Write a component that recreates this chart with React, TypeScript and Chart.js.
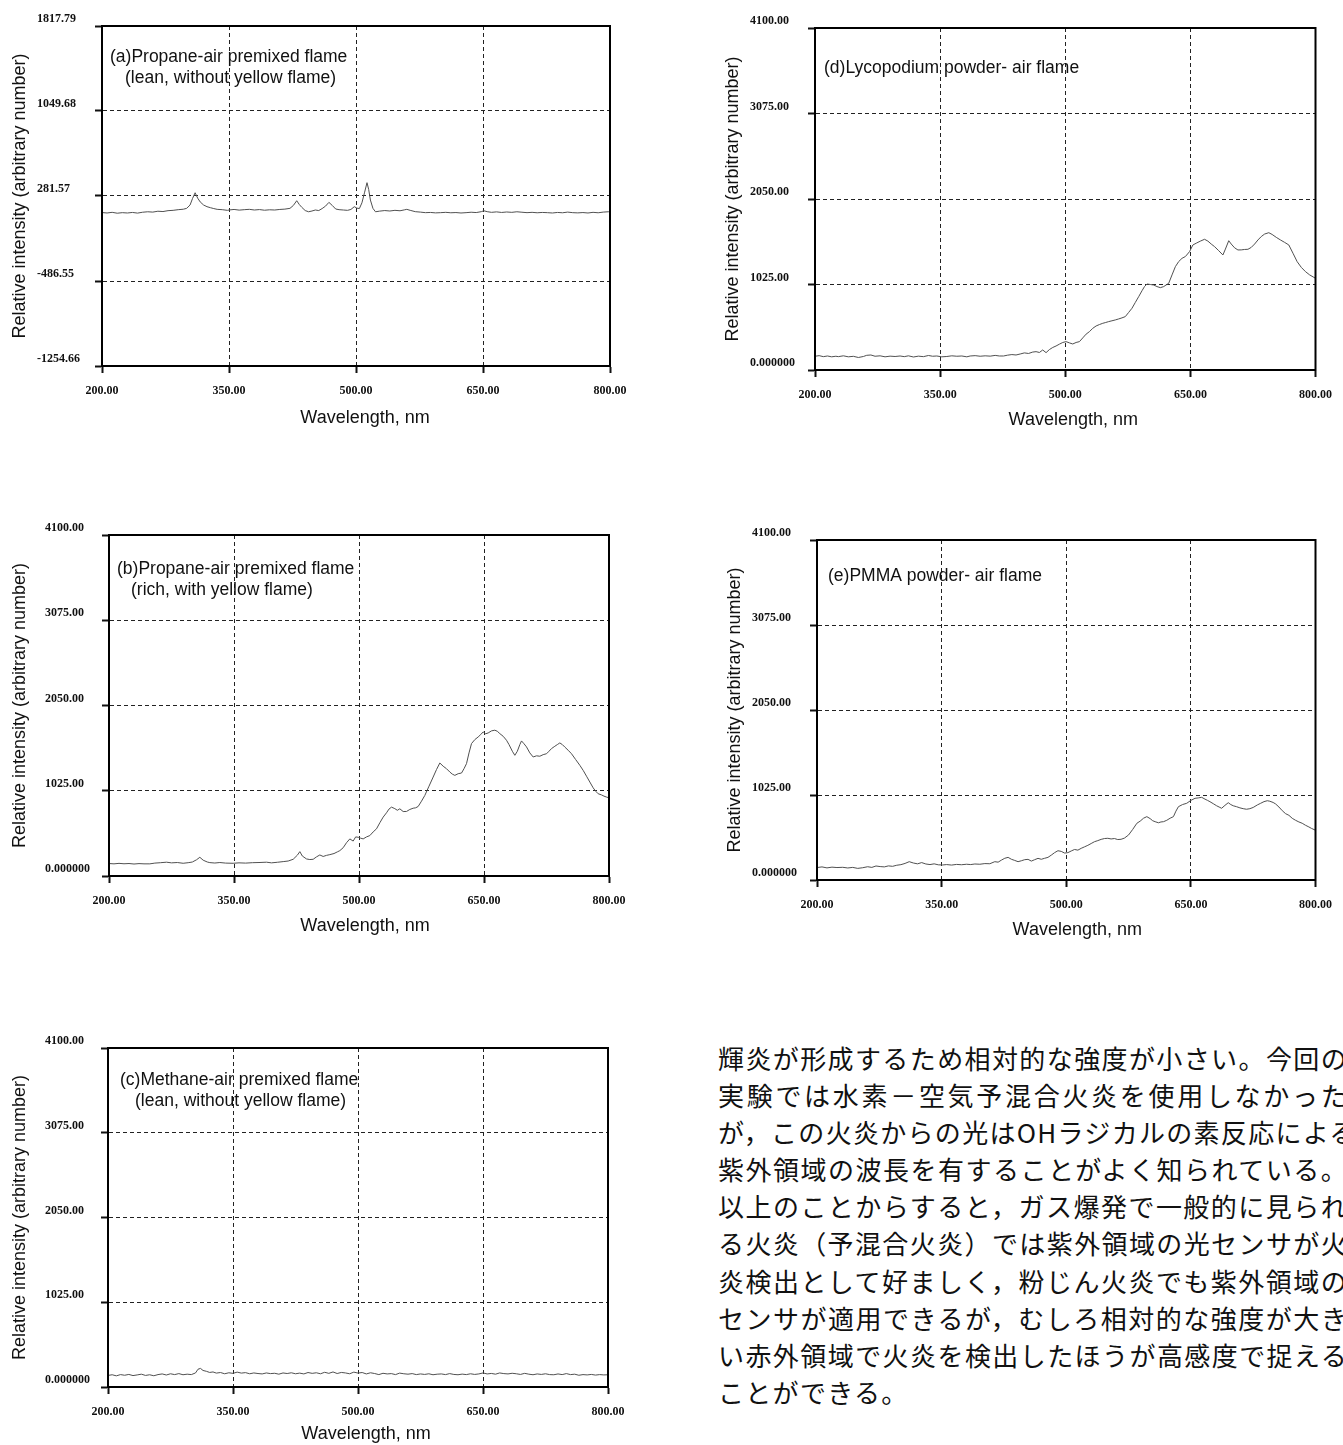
import React, { useEffect, useRef } from 'react';
import { Chart, registerables } from 'chart.js';

Chart.register(...registerables);

// ---- Axis ticks -------------------------------------------------------------
const X_TICKS = [200, 350, 500, 650, 800];
const X_TICK_LABELS = ['200.00', '350.00', '500.00', '650.00', '800.00'];

const Y_TICKS_A = [-1254.66, -486.55, 281.57, 1049.68, 1817.79];
const Y_TICK_LABELS_A = ['-1254.66', '-486.55', '281.57', '1049.68', '1817.79'];

const Y_TICKS = [0, 1025, 2050, 3075, 4100];
const Y_TICK_LABELS = ['0.000000', '1025.00', '2050.00', '3075.00', '4100.00'];

// ---- Spectra (wavelength nm / relative intensity) ---------------------------
// (a) propane-air, lean
const WL_A = [200, 206, 212, 218, 224, 230, 236, 242, 248, 254, 260, 266, 272, 278, 284, 290, 296, 300, 304, 307, 310, 313, 316, 320, 324, 328, 332, 336, 342, 348, 351, 356, 362, 368, 374, 380, 386, 392, 398, 404, 410, 416, 422, 426, 430, 433, 436, 440, 444, 448, 452, 456, 460, 464, 468, 472, 476, 480, 485, 490, 494, 498, 501, 504, 507, 510, 513, 515, 517, 520, 523, 528, 534, 540, 546, 552, 557, 560, 564, 570, 576, 582, 588, 594, 600, 606, 612, 618, 624, 630, 636, 642, 648, 651, 655, 660, 666, 672, 678, 684, 690, 696, 702, 708, 714, 720, 726, 732, 738, 744, 750, 756, 762, 768, 774, 780, 786, 792, 798, 800];
const INT_A = [132, 128, 134, 126, 131, 128, 133, 127, 135, 139, 136, 144, 141, 149, 152, 158, 162, 170, 200, 260, 311, 262, 228, 200, 185, 176, 168, 161, 158, 152, 156, 160, 154, 158, 161, 155, 159, 153, 157, 155, 160, 163, 170, 196, 239, 205, 179, 150, 139, 146, 155, 150, 168, 190, 224, 196, 164, 158, 155, 152, 160, 185, 172, 168, 220, 310, 402, 340, 245, 170, 139, 145, 150, 146, 152, 148, 156, 161, 152, 140, 136, 131, 133, 129, 131, 134, 130, 132, 128, 131, 135, 132, 140, 148, 140, 134, 138, 133, 137, 134, 139, 135, 131, 134, 130, 133, 131, 128, 133, 130, 136, 131, 129, 132, 128, 134, 130, 136, 139, 140];

// (b) propane-air, rich
const WL_B = [200, 206, 212, 218, 224, 230, 236, 242, 249, 255, 262, 269, 275, 282, 289, 295, 300, 305, 309, 313, 318, 321, 327, 333, 340, 349, 356, 364, 372, 380, 389, 395, 402, 409, 415, 421, 426, 429, 432, 437, 441, 445, 449, 453, 457, 461, 465, 470, 474, 477, 481, 485, 489, 493, 496, 499, 502, 505, 509, 513, 517, 521, 525, 529, 533, 536, 539, 543, 546, 549, 553, 557, 561, 565, 568, 571, 575, 579, 584, 589, 593, 597, 601, 605, 609, 612, 615, 619, 623, 626, 629, 632, 635, 639, 643, 646, 649, 652, 655, 659, 663, 666, 669, 673, 677, 680, 684, 687, 690, 693, 695, 698, 701, 705, 709, 713, 717, 721, 725, 728, 731, 735, 738, 741, 744, 747, 751, 755, 760, 765, 769, 773, 777, 781, 784, 787, 791, 794, 797, 800];
const INT_B = [150, 146, 152, 147, 150, 144, 149, 146, 146, 155, 160, 166, 158, 162, 153, 160, 168, 195, 225, 190, 168, 161, 156, 162, 155, 153, 158, 155, 160, 162, 166, 158, 165, 173, 180, 201, 250, 293, 240, 205, 198, 201, 230, 253, 235, 248, 257, 270, 290, 305, 340, 400, 446, 420, 470, 466, 455, 446, 470, 486, 530, 567, 640, 708, 760, 805, 828, 810, 790, 808, 775, 776, 800, 815, 820, 836, 900, 969, 1080, 1190, 1280, 1359, 1320, 1290, 1250, 1225, 1210, 1230, 1238, 1290, 1351, 1480, 1592, 1640, 1672, 1700, 1732, 1710, 1720, 1745, 1753, 1740, 1712, 1680, 1632, 1580, 1500, 1451, 1500, 1580, 1624, 1590, 1552, 1480, 1431, 1445, 1440, 1459, 1470, 1500, 1532, 1560, 1580, 1600, 1580, 1550, 1512, 1470, 1400, 1331, 1270, 1200, 1130, 1060, 1020, 989, 975, 960, 949, 940];

// (c) methane-air, lean
const WL_C = [200, 205, 210, 215, 220, 225, 230, 235, 240, 245, 250, 255, 260, 265, 270, 275, 280, 285, 290, 295, 300, 305, 308, 311, 314, 318, 322, 326, 330, 335, 340, 345, 350, 355, 360, 365, 370, 375, 380, 385, 390, 395, 400, 405, 410, 415, 420, 425, 430, 435, 440, 445, 450, 455, 460, 465, 470, 475, 480, 485, 490, 495, 500, 505, 510, 515, 520, 525, 530, 535, 540, 545, 550, 555, 560, 565, 570, 575, 580, 585, 590, 595, 600, 605, 610, 615, 620, 625, 630, 635, 640, 645, 650, 655, 660, 665, 670, 675, 680, 685, 690, 695, 700, 705, 710, 715, 720, 725, 730, 735, 740, 745, 750, 755, 760, 765, 770, 775, 780, 785, 790, 795, 800];
const INT_C = [140, 148, 135, 150, 142, 152, 138, 146, 155, 140, 148, 136, 150, 158, 145, 160, 150, 162, 148, 155, 150, 170, 215, 225, 200, 190, 176, 182, 168, 175, 160, 172, 165, 180, 168, 174, 160, 170, 163, 158, 170, 162, 166, 155, 170, 163, 172, 160, 168, 158, 175, 165, 172, 160, 178, 165, 182, 163, 176, 170, 160, 180, 168, 175, 158, 172, 163, 150, 166, 158, 162, 150, 168, 160, 155, 162, 150, 158, 152, 160, 148, 155, 158, 150, 162, 152, 148, 156, 150, 160, 152, 158, 170, 158, 164, 155, 170, 162, 158, 166, 160, 152, 165, 155, 148, 158, 152, 160, 150, 148, 158, 150, 162, 150, 155, 142, 150, 146, 152, 144, 150, 146, 148];

// (d) lycopodium powder-air
const WL_D = [200, 205, 210, 215, 220, 225, 228, 234, 240, 246, 252, 258, 262, 267, 272, 278, 284, 290, 296, 302, 307, 312, 318, 324, 330, 336, 341, 346, 352, 358, 364, 370, 376, 382, 386, 392, 398, 404, 410, 416, 421, 426, 431, 436, 441, 446, 451, 456, 461, 465, 469, 473, 477, 481, 485, 489, 493, 497, 501, 505, 509, 513, 517, 521, 525, 529, 533, 537, 541, 545, 548, 552, 556, 560, 564, 568, 572, 576, 580, 584, 588, 592, 595, 598, 602, 606, 610, 614, 618, 621, 624, 628, 632, 636, 640, 644, 649, 653, 657, 662, 667, 671, 675, 679, 684, 689, 692, 696, 699, 703, 707, 711, 715, 719, 723, 727, 731, 735, 739, 744, 748, 753, 758, 763, 768, 773, 778, 783, 788, 793, 798, 800];
const INT_D = [165, 172, 160, 168, 158, 165, 160, 170, 158, 164, 150, 162, 176, 180, 165, 170, 158, 166, 162, 168, 160, 170, 156, 166, 160, 174, 165, 168, 158, 162, 170, 165, 168, 158, 168, 172, 165, 170, 166, 175, 168, 168, 178, 185, 180, 192, 205, 198, 215, 220, 210, 240, 208, 245, 270, 288, 310, 330, 340, 325, 312, 330, 340, 385, 430, 460, 500, 528, 545, 560, 568, 580, 590, 600, 612, 625, 640, 690, 740, 810, 879, 950, 1000, 1031, 1025, 1019, 1000, 987, 1000, 1020, 1039, 1140, 1239, 1300, 1339, 1360, 1419, 1499, 1520, 1545, 1567, 1545, 1510, 1479, 1430, 1379, 1450, 1550, 1510, 1465, 1439, 1440, 1445, 1447, 1470, 1510, 1559, 1600, 1630, 1646, 1625, 1590, 1559, 1530, 1499, 1400, 1299, 1230, 1179, 1140, 1111, 1100];

// (e) PMMA powder-air
const WL_E = [200, 206, 212, 218, 224, 231, 237, 243, 249, 255, 261, 266, 271, 276, 281, 286, 291, 296, 301, 306, 311, 316, 321, 326, 331, 336, 341, 346, 351, 356, 362, 368, 374, 380, 385, 390, 396, 402, 408, 414, 418, 422, 426, 430, 434, 438, 442, 446, 450, 454, 458, 462, 466, 470, 474, 478, 482, 486, 490, 494, 498, 502, 506, 510, 514, 518, 522, 526, 530, 534, 538, 542, 546, 550, 554, 558, 562, 566, 570, 575, 580, 585, 589, 593, 597, 601, 604, 607, 611, 614, 617, 621, 625, 629, 632, 635, 640, 645, 650, 655, 659, 663, 667, 670, 673, 677, 681, 684, 687, 691, 695, 698, 701, 705, 709, 713, 717, 721, 725, 730, 734, 738, 742, 745, 749, 752, 756, 760, 764, 768, 772, 776, 780, 784, 788, 792, 795, 800];
const INT_E = [150, 158, 146, 155, 150, 153, 145, 152, 140, 148, 160, 152, 169, 162, 158, 170, 165, 178, 185, 200, 221, 205, 195, 210, 193, 186, 195, 183, 181, 186, 180, 188, 184, 190, 186, 193, 190, 198, 196, 221, 215, 240, 262, 273, 250, 236, 221, 232, 245, 249, 228, 245, 261, 250, 262, 273, 300, 330, 353, 345, 325, 330, 350, 368, 360, 382, 400, 418, 440, 462, 475, 490, 500, 503, 495, 500, 488, 491, 505, 543, 610, 684, 710, 745, 764, 740, 715, 703, 690, 700, 703, 720, 745, 764, 830, 884, 910, 925, 960, 985, 990, 997, 975, 960, 944, 920, 895, 880, 865, 900, 932, 910, 895, 884, 870, 860, 853, 860, 875, 905, 925, 945, 956, 950, 935, 917, 880, 836, 800, 780, 744, 720, 700, 684, 660, 640, 623, 600];

// ---- Panel captions ---------------------------------------------------------
const CAPTION_A = ['(a)Propane-air premixed flame', '(lean, without yellow flame)'];
const CAPTION_B = ['(b)Propane-air premixed flame', '(rich, with yellow flame)'];
const CAPTION_C = ['(c)Methane-air premixed flame', '(lean, without yellow flame)'];
const CAPTION_D = ['(d)Lycopodium powder- air flame'];
const CAPTION_E = ['(e)PMMA powder- air flame'];

const X_TITLE = 'Wavelength, nm';
const Y_TITLE = 'Relative intensity (arbitrary number)';

// ---- Body text beside panel (c) --------------------------------------------
const TEXT_LINES = [
  '輝炎が形成するため相対的な強度が小さい。今回の',
  '実験では水素－空気予混合火炎を使用しなかった',
  'が，この火炎からの光はOHラジカルの素反応による',
  '紫外領域の波長を有することがよく知られている。',
  '以上のことからすると，ガス爆発で一般的に見られ',
  'る火炎（予混合火炎）では紫外領域の光センサが火',
  '炎検出として好ましく，粉じん火炎でも紫外領域の',
  'センサが適用できるが，むしろ相対的な強度が大き',
  'い赤外領域で火炎を検出したほうが高感度で捉える',
  'ことができる。',
];

type Rect = { left: number; top: number; width: number; height: number };
type Box = { left: number; top: number; right: number; bottom: number };
type Panel = {
  id: string;
  canvas: Rect;
  box: Box;
  labelLeft: number;
  titleX: number;
  xTitleDx: number;
  xTitleDy: number;
  caption: string[];
  captionAt: [number, number][];
  wl: number[];
  values: number[];
  yTicks: number[];
  yLabels: string[];
};

const PANELS: Panel[] = [
  {
    id: 'a', canvas: { left: 0, top: 0, width: 640, height: 440 },
    box: { left: 102, top: 26, right: 610, bottom: 366 },
    labelLeft: 37, titleX: 20, xTitleDx: 9, xTitleDy: 52,
    caption: CAPTION_A, captionAt: [[8, 31], [23, 52]],
    wl: WL_A, values: INT_A, yTicks: Y_TICKS_A, yLabels: Y_TICK_LABELS_A,
  },
  {
    id: 'd', canvas: { left: 700, top: 0, width: 643, height: 440 },
    box: { left: 815, top: 28, right: 1320, bottom: 370 },
    labelLeft: 750, titleX: 733, xTitleDx: 8, xTitleDy: 50,
    caption: CAPTION_D, captionAt: [[9, 40]],
    wl: WL_D, values: INT_D, yTicks: Y_TICKS, yLabels: Y_TICK_LABELS,
  },
  {
    id: 'b', canvas: { left: 0, top: 500, width: 640, height: 450 },
    box: { left: 109, top: 535, right: 609, bottom: 876 },
    labelLeft: 45, titleX: 20, xTitleDx: 6, xTitleDy: 50,
    caption: CAPTION_B, captionAt: [[8, 34], [22, 55]],
    wl: WL_B, values: INT_B, yTicks: Y_TICKS, yLabels: Y_TICK_LABELS,
  },
  {
    id: 'e', canvas: { left: 700, top: 510, width: 643, height: 450 },
    box: { left: 817, top: 540, right: 1320, bottom: 880 },
    labelLeft: 752, titleX: 735, xTitleDx: 11, xTitleDy: 50,
    caption: CAPTION_E, captionAt: [[11, 36]],
    wl: WL_E, values: INT_E, yTicks: Y_TICKS, yLabels: Y_TICK_LABELS,
  },
  {
    id: 'c', canvas: { left: 0, top: 1020, width: 640, height: 425 },
    box: { left: 108, top: 1048, right: 608, bottom: 1387 },
    labelLeft: 45, titleX: 20, xTitleDx: 8, xTitleDy: 47,
    caption: CAPTION_C, captionAt: [[12, 32], [27, 53]],
    wl: WL_C, values: INT_C, yTicks: Y_TICKS, yLabels: Y_TICK_LABELS,
  },
];

const X_SCALE_H = 40;
const TICK_FONT = { family: '"Liberation Serif", "Times New Roman", serif', size: 12, weight: 'bold' as const };
const TITLE_FONT = { family: '"Liberation Sans", Arial, sans-serif', size: 18 };
const CAPTION_FONT = '17.5px "Liberation Sans", Arial, sans-serif';
const X_TITLE_FONT = '18px "Liberation Sans", Arial, sans-serif';

function SpectrumPanel({ p }: { p: Panel }) {
  const ref = useRef<HTMLCanvasElement | null>(null);

  useEffect(() => {
    if (!ref.current) return;
    const titleLineHeight = TITLE_FONT.size * 1.2;
    const yScaleW = p.box.left - p.labelLeft;
    const padding = {
      left: p.labelLeft - p.canvas.left,
      top: p.box.top - p.canvas.top,
      right: p.canvas.left + p.canvas.width - p.box.right,
      bottom: p.canvas.top + p.canvas.height - p.box.bottom - X_SCALE_H,
    };

    // frame around the plot area, the panel caption and the wavelength title
    const decor = {
      id: 'panelDecor',
      afterDatasetsDraw(chart: Chart) {
        const { ctx, chartArea: a } = chart;
        ctx.save();
        ctx.strokeStyle = '#000';
        ctx.lineWidth = 2;
        ctx.strokeRect(a.left, a.top, a.right - a.left, a.bottom - a.top);
        ctx.fillStyle = '#111';
        ctx.font = CAPTION_FONT;
        ctx.textAlign = 'left';
        ctx.textBaseline = 'middle';
        p.caption.forEach((line, i) => {
          const [dx, dy] = p.captionAt[i];
          ctx.fillText(line, a.left + dx, a.top + dy);
        });
        ctx.font = X_TITLE_FONT;
        ctx.textAlign = 'center';
        ctx.fillText(X_TITLE, (a.left + a.right) / 2 + p.xTitleDx, a.bottom + p.xTitleDy);
        ctx.restore();
      },
    };

    const chart = new Chart(ref.current, {
      type: 'line',
      data: {
        datasets: [
          {
            data: p.wl.map((x, i) => ({ x, y: p.values[i] })),
            borderColor: '#505050',
            borderWidth: 1,
            pointRadius: 0,
            tension: 0,
            fill: false,
          },
        ],
      },
      options: {
        animation: false,
        responsive: false,
        events: [],
        layout: { padding },
        plugins: { legend: { display: false }, tooltip: { enabled: false }, title: { display: false } },
        scales: {
          x: {
            type: 'linear',
            min: 200,
            max: 800,
            afterBuildTicks: (s: any) => { s.ticks = X_TICKS.map((v) => ({ value: v })); },
            afterFit: (s: any) => { s.height = X_SCALE_H; },
            ticks: {
              autoSkip: false,
              maxRotation: 0,
              padding: 11,
              color: '#111',
              font: TICK_FONT,
              callback: (v: any) => X_TICK_LABELS[X_TICKS.indexOf(Number(v))] ?? '',
            },
            grid: { color: '#222', lineWidth: 1, tickLength: 7, tickColor: '#111', tickWidth: 2, tickBorderDash: [] },
            border: { display: true, color: '#000', width: 2, dash: [4, 3] },
            title: { display: false },
          },
          y: {
            type: 'linear',
            min: p.yTicks[0],
            max: p.yTicks[p.yTicks.length - 1],
            afterBuildTicks: (s: any) => { s.ticks = p.yTicks.map((v) => ({ value: v })); },
            afterFit: (s: any) => { s.width = yScaleW; },
            ticks: {
              autoSkip: false,
              crossAlign: 'far',
              labelOffset: -7,
              color: '#111',
              font: TICK_FONT,
              callback: (v: any) => {
                const i = p.yTicks.findIndex((t) => Math.abs(t - Number(v)) < 1e-6);
                return i >= 0 ? p.yLabels[i] : '';
              },
            },
            grid: { color: '#222', lineWidth: 1, tickLength: 7, tickColor: '#111', tickWidth: 2, tickBorderDash: [] },
            border: { display: true, color: '#000', width: 2, dash: [4, 3] },
            title: {
              display: true,
              text: Y_TITLE,
              color: '#111',
              font: TITLE_FONT,
              padding: { top: p.titleX - p.labelLeft - titleLineHeight / 2, bottom: 0 },
            },
          },
        },
      },
      plugins: [decor],
    } as any);

    return () => chart.destroy();
  }, [p]);

  return (
    <canvas
      ref={ref}
      width={p.canvas.width}
      height={p.canvas.height}
      style={{
        position: 'absolute',
        left: p.canvas.left,
        top: p.canvas.top,
        width: p.canvas.width,
        height: p.canvas.height,
      }}
    />
  );
}

export default function App() {
  return (
    <div
      style={{
        position: 'absolute',
        left: 0,
        top: 0,
        width: 1343,
        height: 1445,
        overflow: 'hidden',
        background: '#fff',
      }}
    >
      {PANELS.map((p) => (
        <SpectrumPanel key={p.id} p={p} />
      ))}
      <div
        style={{
          position: 'absolute',
          left: 718,
          top: 1039,
          width: 630,
          fontFamily: '"Noto Sans CJK JP", sans-serif',
          fontSize: 26,
          lineHeight: '37.1px',
          letterSpacing: '1.3px',
          color: '#111',
        }}
      >
        {TEXT_LINES.map((t, i) => {
          const last = i === TEXT_LINES.length - 1;
          return (
            <div
              key={i}
              style={{
                whiteSpace: 'nowrap',
                textAlign: last ? 'left' : 'justify',
                textAlignLast: last ? 'left' : 'justify',
              } as React.CSSProperties}
            >
              {t}
            </div>
          );
        })}
      </div>
    </div>
  );
}
